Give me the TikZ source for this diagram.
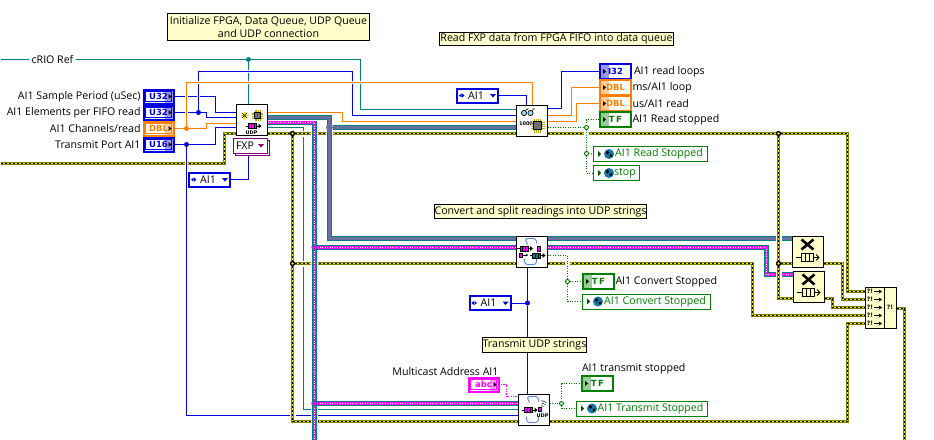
\documentclass[tikz,border=0pt]{standalone}
\usepackage{fontspec}
\usepackage{xcolor}
\usepackage{tikz}
\usetikzlibrary{arrows.meta,positioning,calc,shadows}
\setmainfont{Open Sans}
\newfontfamily\dejavu{DejaVu Sans}
\newcommand{\lblfont}{\fontsize{10.6}{13.5}\selectfont}
\newcommand{\termfont}{\dejavu\bfseries\fontsize{8.5}{9}\selectfont}
\newcommand{\tinyfont}{\dejavu\bfseries\fontsize{5}{5}\selectfont}
\definecolor{bluew}{RGB}{0,0,225}
\definecolor{orangew}{RGB}{255,128,0}
\definecolor{tealw}{RGB}{0,128,128}
\definecolor{magw}{RGB}{255,0,255}
\definecolor{greenw}{RGB}{0,128,0}
\definecolor{olivew}{RGB}{128,128,0}
\definecolor{notefill}{RGB}{255,255,204}
\definecolor{thickw}{RGB}{104,112,160}
\definecolor{purpw}{RGB}{128,0,128}
\definecolor{globew}{RGB}{20,120,170}
\definecolor{loopw}{RGB}{90,130,230}
\definecolor{chipw}{RGB}{110,110,110}
\definecolor{pinw}{RGB}{190,170,0}
\pgfdeclarelayer{wires}
\pgfsetlayers{wires,main}
\tikzset{
  every node/.style={outer sep=0pt,inner sep=0pt},
  notebox/.style={rectangle,draw=black,line width=1pt,fill=notefill,align=center,font=\lblfont},
  subvi/.style={rectangle,draw=black,line width=1pt,fill=white,minimum width=31pt,minimum height=31pt},
  plainlbl/.style={font=\lblfont,text=black},
  ctlterm/.style={rectangle,draw=#1,line width=2pt,fill=white,text=#1,minimum width=30pt,minimum height=14pt,font=\termfont,
    path picture={
      \fill[#1!40] ([xshift=-9pt]path picture bounding box.north east) rectangle (path picture bounding box.south east);
      \draw[#1,line width=.8pt] ([shift={(2pt,-2pt)}]path picture bounding box.north west) rectangle ([shift={(-2pt,2pt)}]path picture bounding box.south east);
      \fill[black] ([xshift=-2pt]path picture bounding box.east) -- ++(-3pt,2.5pt) -- ++(0,-5pt) -- cycle;}},
  indterm/.style={rectangle,draw=#1,line width=1.1pt,fill=white,text=#1,minimum width=31pt,minimum height=15pt,font=\termfont,
    path picture={
      \fill[#1!40] (path picture bounding box.north west) rectangle ([xshift=9pt]path picture bounding box.south west);
      \fill[black] ([xshift=6pt]path picture bounding box.west) -- ++(-3pt,2.5pt) -- ++(0,-5pt) -- cycle;}},
  enumbox/.style={rectangle,draw=bluew,line width=2pt,fill=white,text=black,minimum width=41pt,minimum height=14pt,font=\lblfont,
    path picture={
      \fill[bluew] ([xshift=-2pt]path picture bounding box.east) ++(-6pt,1.5pt) -- ++(6pt,0) -- ++(-3pt,-3.5pt) -- cycle;
      \fill[bluew] ([xshift=2pt]path picture bounding box.west) -- ++(2.5pt,2pt) -- ++(0,-4pt) -- cycle;
      \fill[bluew] ([xshift=7.5pt]path picture bounding box.west) -- ++(-2.5pt,2pt) -- ++(0,-4pt) -- cycle;}},
  ringbox/.style={rectangle,draw=purpw,line width=1pt,fill=white,text=black,minimum width=34pt,minimum height=15pt,font=\lblfont,
    copy shadow={shadow xshift=2pt,shadow yshift=-2pt,draw=purpw,fill=white},
    path picture={
      \fill[purpw] ([xshift=-3pt]path picture bounding box.east) ++(-6pt,1.5pt) -- ++(6pt,0) -- ++(-3pt,-3.5pt) -- cycle;}},
  globalbox/.style={rectangle,draw=greenw,line width=1pt,fill=white,text=greenw,minimum width=#1,minimum height=15pt,font=\lblfont,anchor=west,
    execute at begin node={\hspace*{18pt}},
    path picture={
      \fill[greenw!70!black] ([xshift=8pt]path picture bounding box.west) -- ++(-3pt,3pt) -- ++(0,-6pt) -- cycle;
      \fill[globew] ([xshift=16pt]path picture bounding box.west) circle (5pt);
      \fill[black] ([shift={(14.5pt,1.5pt)}]path picture bounding box.west) circle (1.8pt);
      \fill[black] ([shift={(18pt,-1.5pt)}]path picture bounding box.west) circle (1.6pt);}},
  yellowbox/.style={rectangle,draw=black,line width=1pt,fill=notefill},
  jct/.style={circle,fill=#1,minimum size=5pt},
  jgreen/.style={circle,draw=greenw,fill=white,line width=1pt,minimum size=4pt},
  jerr/.style={circle,draw=black,fill=yellow,line width=1.3pt,minimum size=4pt},
  jmag/.style={circle,draw=tealw,fill=magw,line width=.8pt,minimum size=5.5pt},
  jthick/.style={circle,fill=thickw,minimum size=7pt},
  thinwire/.style={draw=#1,line width=1pt,preaction={draw=white,line width=3pt}},
  errwire/.style={draw=black,line width=1pt,dash pattern=on 2pt off 2pt,
    preaction={draw=white,line width=6pt,solid},
    preaction={draw=olivew,line width=3pt,solid},
    preaction={draw=yellow,line width=1pt,solid}},
  magwire/.style={draw=white,line width=1pt,dash pattern=on 1pt off 1.5pt,
    preaction={draw=white,line width=7pt,solid},
    preaction={draw=tealw,line width=5pt,solid},
    preaction={draw=magw,line width=3pt,solid}},
  thickwire/.style={draw=thickw,line width=3pt,
    preaction={draw=white,line width=7pt},
    preaction={draw=tealw,line width=5pt}},
  boolwire/.style={draw=greenw,line width=1pt,dash pattern=on 1pt off 1.5pt,preaction={draw=white,line width=5pt,solid}},
  strwire/.style={draw=magw,line width=1.4pt,dash pattern=on 1.2pt off 1.2pt},
  pics/chipico/.style={code={
    \foreach \k in {-3,-1,1,3} {
      \draw[pinw,line width=.7pt] (-7,\k) -- (7,\k);
      \draw[pinw,line width=.7pt] (\k,-7) -- (\k,7);}
    \fill[chipw] (-4,-4) rectangle (4,4);
    \draw[black,line width=.5pt] (-4,-4) rectangle (4,4);}},
  pics/qarrow/.style={code={
    \draw[black,line width=1pt] (-7,0) -- (7,0);
    \fill[black] (9,0) -- (6,-2.5) -- (6,2.5) -- cycle;
    \draw[black,fill=#1,line width=.8pt] (-4,-2.5) rectangle (4,2.5);
    \foreach \k in {-1.5,1.5} \draw[black,line width=.6pt] (\k,-2.5) -- (\k,2.5);}},
  pics/relq/.style={code={
    \draw[black,line width=2.6pt] (-6,-12) -- (6,-2) (6,-12) -- (-6,-2);
    \draw[black,line width=.8pt] (-12,6) -- (-6,6);
    \draw[black,line width=.8pt] (-6,2) rectangle (6,10);
    \foreach \k in {-2,2} \draw[black,line width=.8pt] (\k,2) -- (\k,10);
    \draw[black,line width=.8pt] (6,6) -- (11,6) (8.5,3) -- (11.5,6) -- (8.5,9);}},
  pics/loopico/.style={code={
    \draw[loopw,line width=.9pt,rounded corners=3pt] (-4,-7) -- (-7,-13) -- (5,-13) -- (5,-8);
    \draw[loopw,line width=.9pt,rounded corners=3pt] (5,7) -- (5,13) -- (-7,13) -- (-7,7);}},
}
\begin{document}
\begin{tikzpicture}[x=1pt,y=-1pt]
\useasboundingbox (0,0) rectangle (934,439);
\begin{scope}[shift={(.5,.5)}]
\node[notebox,minimum width=202pt,minimum height=27pt] (initnote) at (268,26.5) {Initialize FPGA, Data Queue, UDP Queue\\and UDP connection};
\node[notebox,minimum width=234pt,minimum height=13pt] (readnote) at (556,38.5) {Read FXP data from FPGA FIFO into data queue};
\node[notebox,minimum width=210pt,minimum height=14pt] (convnote) at (540,211) {Convert and split readings into UDP strings};
\node[notebox,minimum width=104pt,minimum height=15pt] (txnote) at (534,344.5) {Transmit UDP strings};
\node[plainlbl,inner xsep=3pt] (criolbl) at (52,59) {cRIO Ref};
\node[ctlterm=bluew] (period) at (158,96) {U32};
\node[ctlterm=bluew,below=2pt of period] (elem) {U32};
\node[ctlterm=orangew,below=2pt of elem] (chan) {DBL};
\node[ctlterm=bluew,below=2pt of chan] (port) {U16};
\node[plainlbl,left=3pt of period] (periodlbl) {AI1 Sample Period (uSec)};
\node[plainlbl,left=3pt of elem] (elemlbl) {AI1 Elements per FIFO read};
\node[plainlbl,left=3pt of chan] (chanlbl) {AI1 Channels/read};
\node[plainlbl,left=3pt of port] (portlbl) {Transmit Port AI1};
\node[subvi] (initudp) at (251,119.5) {};
\node[subvi] (readfifo) at (531.5,120.5) {};
\node[subvi] (convert) at (531,251) {};
\node[subvi] (transmit) at (533,409) {};
\node[ringbox] (fxp) at (249.5,145) {FXP\hspace*{10pt}};
\node[enumbox] (enuma) at (209,179) {\hspace*{2pt}AI1\hspace*{5pt}};
\node[enumbox] (enumb) at (477,95) {\hspace*{2pt}AI1\hspace*{5pt}};
\node[enumbox] (enumc) at (489.5,302.5) {\hspace*{2pt}AI1\hspace*{5pt}};
\node[indterm=bluew] (reads) at (615,71) {I32};
\node[indterm=orangew,below=1pt of reads] (msloop) {DBL};
\node[indterm=orangew,below=1pt of msloop] (usread) {DBL};
\node[indterm=greenw,below=1pt of usread] (rstop) {T\,F};
\node[plainlbl,right=3pt of reads] (readslbl) {AI1 read loops};
\node[plainlbl,right=1.5pt of msloop] (msloopl) {ms/AI1 loop};
\node[plainlbl,right=1.5pt of usread] (usreadl) {us/AI1 read};
\node[plainlbl,right=1.5pt of rstop] (rstopl) {AI1 Read stopped};
\node[globalbox=114pt] (gread) at (592.5,153.5) {AI1 Read Stopped};
\node[globalbox=46pt,below=4pt of gread.south west,anchor=north west] (gstop) {stop};
\node[indterm=greenw] (tfconv) at (598,281) {T\,F};
\node[plainlbl,right=1.5pt of tfconv] (tfconvl) {AI1 Convert Stopped};
\node[globalbox=128pt] (gconv) at (581.5,301) {AI1 Convert Stopped};
\node[ctlterm=magw] (mcast) at (483,384) {abc};
\node[plainlbl,above=1.5pt of mcast.north east,anchor=south east] (mcastl) {Multicast Address AI1};
\node[indterm=greenw] (tftx) at (597,383) {T\,F};
\node[plainlbl,above=1.5pt of tftx.north west,anchor=south west] (tftxl) {AI1 transmit stopped};
\node[globalbox=131pt] (gtx) at (575.5,408) {AI1 Transmit Stopped};
\node[yellowbox,minimum width=31pt,minimum height=31pt] (relqa) at (807,251) {};
\node[yellowbox,minimum width=31pt,minimum height=31pt] (relqb) at (808,286) {};
\node[yellowbox,minimum width=31pt,minimum height=41pt] (merge) at (880,307) {};
\node[jct=tealw] (jcrio) at (248,59) {};
\node[jct=bluew] (jelem) at (198,112) {};
\node[jct=orangew] (jchan) at (186,128) {};
\node[jct=bluew] (jport) at (186,144) {};
\node[jct=bluew] (jconv) at (527,302.5) {};
\node[jgreen] (jrs) at (586,127) {};
\node[jgreen] (jgv) at (586,153) {};
\node[jgreen] (jcs) at (567,281) {};
\node[jgreen] (jts) at (561,403) {};
\node[jerr] (jya) at (292,133) {};
\node[jerr] (jyb) at (778,133) {};
\node[jerr] (jyc) at (292,263) {};
\node[jerr] (jyd) at (778,263) {};
\node[jmag] (jma) at (314,247) {};
\node[jmag] (jmb) at (314,403) {};
\node[jthick] (jk) at (329,127) {};
\foreach \a in {0,45,90,135} \draw[yellow!80!orange,line width=.9pt] ([shift={(\a:4)}]244,115) -- ([shift={(\a:-4)}]244,115);
\draw[black,line width=.5pt] (241.5,112.5) -- (246.5,117.5) (241.5,117.5) -- (246.5,112.5);
\pic[scale=.8] at (257,115) {chipico};
\pic at (252,125.5) {qarrow=magw};
\node[font=\tinyfont] (udpa) at (251,132) {UDP};
\foreach \c in {523.5,530} \draw[black,fill=cyan!40,line width=.7pt] (\c,112.5) circle (2.6);
\draw[black,line width=.6pt] (525,110) -- (528,108) (531.5,110) -- (534,108);
\node[font=\tinyfont] (kilo) at (525.5,123.5) {1000};
\pic at (537,125) {chipico};
\pic at (523.5,248) {qarrow=magw};
\pic at (531,251) {loopico};
\pic at (536,255) {qarrow=tealw};
\draw[black,fill=magw,line width=.6pt] (536.5,246) rectangle (539.5,250.5);
\draw[black,fill=magw,line width=.6pt] (518.5,252.5) rectangle (522,256.5);
\draw[black,line width=.8pt,-{Stealth[length=3pt]}] (522,254.5) -- (528,254.5);
\pic at (533,409) {loopico};
\pic at (528,409.5) {qarrow=magw};
\draw[black,fill=magw,line width=.6pt] (537.5,407) rectangle (540.5,411);
\node[font=\tinyfont] (udpb) at (542,415.5) {UDP};
\draw[black,line width=.5pt] (541,400) -- (546,402) (541,402.5) -- (545,404) (541,405) -- (543,406);
\pic at (relqa.center) {relq=black};
\pic at (relqb.center) {relq=black};
\draw[black,line width=1pt] (884,286.5) -- (884,327.5);
\foreach \n/\y in {a/291,b/299,c/307,d/315,e/323} {
  \node[font=\termfont\fontsize{6}{6}\selectfont] (mq\n) at (869.5,\y) {?!};
  \draw[black,line width=1pt,-{Stealth[length=3.5pt,width=4pt]}] (mq\n.east) ++(1,0) -- ++(8,0);
}
\node[font=\termfont\fontsize{6}{6}\selectfont] (mqout) at (889.5,307) {?!};
\foreach \n/\x/\y in {crioin/0/59,ia/235/112,ib/235/117,ic/235/123,id/235/127,ie/235/133,
  na/516/109,nb/516/115,nc/516/121,nk/516/127,ne/516/133,ntopa/526/105,ntopb/532/105,
  oa/267/112,ok/267/117,om/267/122,ot/267/127,oe/267/133,fxpin/248/150,fxpup/248/138,
  ra/547/108,rb/547/115,rc/547/121,rg/547/127,re/547/133,
  cm/515/247,ce/515/263,dm/547/247,dg/547/255,de/547/263,cs/527/267,tn/527/393,
  tp/517/396,tm/517/403,tt/517/409,tb/517/415,te/517/421,ug/549/403,ue/549/421,
  qka/791/238,qmb/792/274,qea/791/263,qeb/792/298,qoa/823/263,qob/824/298,
  ma/864/291,mb/864/299,mc/864/307,md/864/315,me/864/323,mo/896/308,
  errin/0/163,errout/904/440,magout/314/440} \coordinate (\n) at (\x,\y);
\begin{pgfonlayer}{wires}
\draw[thinwire=tealw] (crioin) -- (criolbl.west) (criolbl.east) -- (jcrio);
\draw[thinwire=tealw] (jcrio) -- ++(112,0) |- (na);
\draw[thinwire=tealw] (jcrio) -- (jcrio |- initudp.north);
\draw[thinwire=tealw] (ot) -- ++(36,0) |- (tt);
\draw[errwire] (errin) -- ++(224,0) |- (ie);
\draw[thinwire=bluew] (period.east) -- ++(42,0) |- (ia);
\draw[thinwire=bluew] (elem.east) -- (jelem) -- ++(8,0) |- (ib);
\draw[thinwire=bluew] (jelem) -- ++(0,-41) -- ++(154,0) |- (nb);
\draw[thinwire=bluew] (port.east) -- (jport) -- ++(29,0) |- (id);
\draw[thinwire=bluew] (jport) |- (tb);
\draw[thinwire=bluew] (enuma.east) -| (fxpin);
\draw[thinwire=bluew] (fxpup) -- (fxpin);
\draw[thinwire=bluew] (enumb.east) -| (ntopa);
\draw[thinwire=bluew] (ra) -- ++(14,0) |- (reads.west);
\draw[thinwire=bluew] (cs) -- (jconv) -- (tn);
\draw[thinwire=bluew] (enumc.east) -- (jconv);
\draw[thinwire=orangew] (chan.east) -- (jchan) -- ++(20,0) |- (ic);
\draw[thinwire=orangew] (jchan) -- ++(0,-46) -| (ntopb);
\draw[thinwire=orangew] (oa) -- ++(75,0) |- (nc);
\draw[thinwire=orangew] (rb) -- ++(24,0) |- (msloop.west);
\draw[thinwire=orangew] (rc) -- ++(29,0) |- (usread.west);
\draw[errwire] (oe) -- (jya) -- (ne);
\draw[errwire] (re) -- (jyb) -- ++(69,0) |- (ma);
\draw[errwire] (jya) -- (jyc) -- (ce);
\draw[errwire] (de) -- ++(205,0) |- (md);
\draw[errwire] (jyc) |- (te);
\draw[errwire] (ue) -- ++(298,0) |- (me);
\draw[errwire] (qoa) -- ++(19,0) |- (mb);
\draw[errwire] (qob) -- ++(8,0) |- (mc);
\draw[errwire] (mo) -| (errout);
\draw[magwire] (om) -- ++(47,0) -- (magout);
\draw[magwire] (jma) -- (cm);
\draw[magwire] (dm) -- ++(219,0) |- (qmb);
\draw[magwire] (jmb) -- (tm);
\draw[thickwire] (ok) -- ++(62,0) |- (qka);
\draw[thickwire] (jk) -- (nk);
\draw[errwire] (jyb) -- (jyd) |- (qeb);
\draw[errwire] (jyd) -- (qea);
\draw[boolwire] (rg) -- (jrs) |- (rstop.west);
\draw[boolwire] (jrs) -- (jgv) -- (gread.west);
\draw[boolwire] (jgv) |- (gstop.west);
\draw[boolwire] (dg) -| (jcs) -- (tfconv.west);
\draw[boolwire] (jcs) |- (gconv.west);
\draw[boolwire] (ug) -- (jts) |- (tftx.west);
\draw[boolwire] (jts) |- (gtx.west);
\draw[strwire] (mcast.east) -- ++(8,0) |- (tp);
\end{pgfonlayer}
\end{scope}
\end{tikzpicture}
\end{document}
